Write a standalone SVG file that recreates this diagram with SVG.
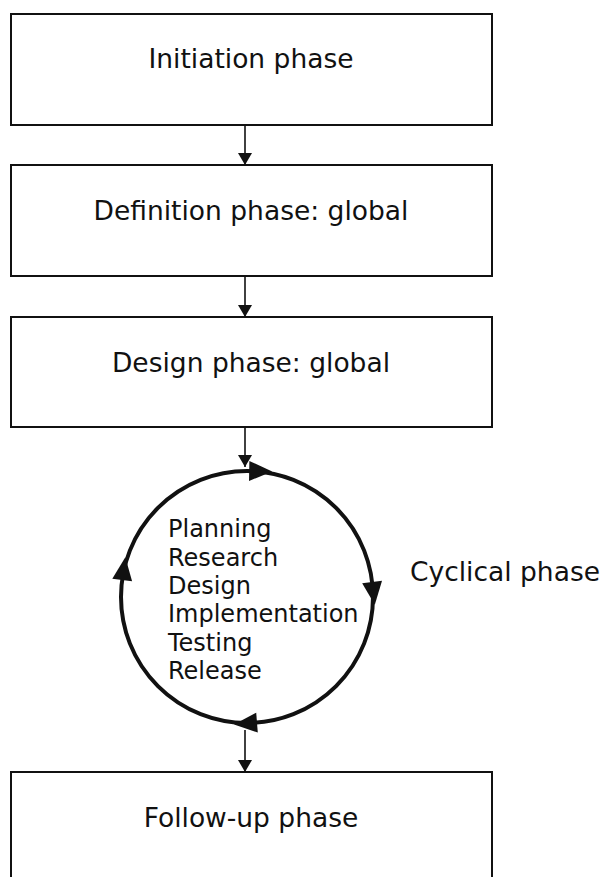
<svg xmlns="http://www.w3.org/2000/svg" width="601" height="877" viewBox="0 0 601 877">
<style>
.box{fill:#fff;stroke:#111;stroke-width:2}
.lbl{font-family:"DejaVu Sans",Verdana,sans-serif;font-size:26.5px;fill:#111;text-anchor:middle}
.lst{font-family:"DejaVu Sans",Verdana,sans-serif;font-size:24px;fill:#111}
.conn{stroke:#111;stroke-width:1.6;fill:none}
.ah{fill:#111}
.cyc{fill:none;stroke:#111;stroke-width:4}
</style>
<defs>
<marker id="arr" viewBox="0 0 12 16" refX="12" refY="8" markerWidth="12" markerHeight="16" markerUnits="userSpaceOnUse" orient="auto">
<path d="M0,1 L12,8 L0,15 Z" class="ah"/>
</marker>
<polygon id="cah" points="0,-10 23,0 0,10" class="ah"/>
</defs>
<rect width="601" height="877" fill="#fff"/>
<g id="initiation">
<rect class="box" x="11" y="14" width="481" height="111"/>
<text class="lbl" x="251" y="68">Initiation phase</text>
</g>
<g id="definition">
<rect class="box" x="11" y="165" width="481" height="111"/>
<text class="lbl" x="251" y="220">Definition phase: global</text>
</g>
<g id="design">
<rect class="box" x="11" y="317" width="481" height="110"/>
<text class="lbl" x="251" y="372">Design phase: global</text>
</g>
<g id="cyclical">
<circle class="cyc" cx="247" cy="597" r="126"/>
<use href="#cah" transform="translate(249.2,471) rotate(1)"/>
<use href="#cah" transform="translate(372.1,582) rotate(83.2)"/>
<use href="#cah" transform="translate(257,722.6) rotate(175.5)"/>
<use href="#cah" transform="translate(122.2,580) rotate(-82.2)"/>
<text class="lst" x="168" y="537">Planning</text>
<text class="lst" x="168" y="565.5">Research</text>
<text class="lst" x="168" y="594">Design</text>
<text class="lst" x="168" y="622">Implementation</text>
<text class="lst" x="168" y="650.5">Testing</text>
<text class="lst" x="168" y="679">Release</text>
<text class="lbl" x="505" y="581">Cyclical phase</text>
</g>
<g id="followup">
<rect class="box" x="11" y="772" width="481" height="130"/>
<text class="lbl" x="251" y="827">Follow-up phase</text>
</g>
<g id="connectors">
<line class="conn" x1="245" y1="125" x2="245" y2="165" marker-end="url(#arr)"/>
<line class="conn" x1="245" y1="276" x2="245" y2="317" marker-end="url(#arr)"/>
<line class="conn" x1="245" y1="427" x2="245" y2="467" marker-end="url(#arr)"/>
<line class="conn" x1="245" y1="730" x2="245" y2="772" marker-end="url(#arr)"/>
</g>
</svg>
